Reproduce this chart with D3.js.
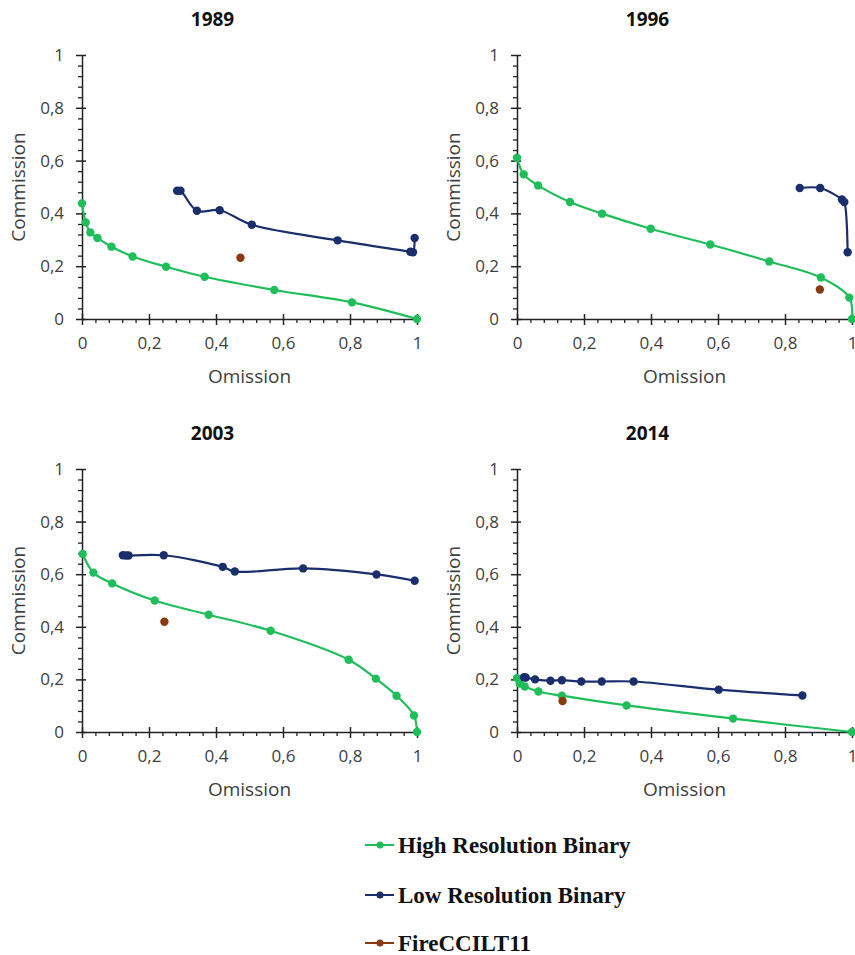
<!DOCTYPE html>
<html><head><meta charset="utf-8">
<script src="https://cdn.jsdelivr.net/npm/d3@7"></script>
<style>body{margin:0;background:#fff}svg{display:block}</style>
</head><body>
<script>
// ---------- DATA ----------
const years = ["1989", "1996", "2003", "2014"];
const seriesNames = ["High Resolution Binary", "Low Resolution Binary", "FireCCILT11"];
const tickValues = [0, 0.2, 0.4, 0.6, 0.8, 1];

// each point: [omission, commission]
const high1989 = [[0,0.438],[0.011,0.366],[0.025,0.328],[0.046,0.307],[0.088,0.274],[0.151,0.237],[0.251,0.198],[0.366,0.160],[0.574,0.110],[0.806,0.063],[1.0,0.0]];
const low1989  = [[0.284,0.486],[0.294,0.486],[0.343,0.410],[0.411,0.412],[0.507,0.357],[0.763,0.298],[0.980,0.255],[0.988,0.253],[0.993,0.307]];
const fire1989 = [[0.473,0.232]];

const high1996 = [[0,0.611],[0.020,0.548],[0.063,0.506],[0.158,0.443],[0.254,0.399],[0.399,0.342],[0.577,0.282],[0.753,0.218],[0.907,0.157],[0.992,0.081],[1.0,0.0]];
const low1996  = [[0.844,0.496],[0.905,0.496],[0.970,0.453],[0.977,0.443],[0.987,0.253]];
const fire1996 = [[0.904,0.112]];

const high2003 = [[0.002,0.677],[0.034,0.606],[0.090,0.565],[0.217,0.500],[0.378,0.446],[0.563,0.385],[0.796,0.275],[0.877,0.203],[0.939,0.138],[0.991,0.063],[1.0,0.0]];
const low2003  = [[0.122,0.672],[0.131,0.671],[0.139,0.671],[0.244,0.672],[0.420,0.628],[0.456,0.610],[0.660,0.622],[0.879,0.599],[0.993,0.575]];
const fire2003 = [[0.246,0.419]];

const high2014 = [[0,0.205],[0.008,0.184],[0.023,0.173],[0.064,0.154],[0.134,0.138],[0.327,0.101],[0.645,0.051],[1.0,0.0]];
const low2014  = [[0.021,0.208],[0.026,0.207],[0.054,0.200],[0.100,0.195],[0.134,0.197],[0.192,0.192],[0.253,0.192],[0.348,0.192],[0.602,0.161],[0.852,0.139]];
const fire2014 = [[0.136,0.118]];

const panelData = {
  "1989": [high1989, low1989, fire1989],
  "1996": [high1996, low1996, fire1996],
  "2003": [high2003, low2003, fire2003],
  "2014": [high2014, low2014, fire2014]
};

// ---------- STYLE / LAYOUT ----------
const W = 855, H = 955;
const colors = ["#1FBE5B", "#1B2E6C", "#8B3A10"];
const layout = {
  "1989": {x0: 82, x1: 417, y0: 55, y1: 319},
  "1996": {x0: 517, x1: 852, y0: 55, y1: 319},
  "2003": {x0: 82, x1: 417, y0: 469, y1: 732},
  "2014": {x0: 517, x1: 852, y0: 469, y1: 732}
};
const font = "'Open Sans', 'Liberation Sans', sans-serif";
const fmt = d => String(d).replace(".", ",");

const svg = d3.select("body").append("svg").attr("width", W).attr("height", H);

years.forEach(yr => {
  const L = layout[yr];
  const x = d3.scaleLinear().domain([0, 1]).range([L.x0, L.x1]);
  const y = d3.scaleLinear().domain([0, 1]).range([L.y1, L.y0]);
  const g = svg.append("g");

  // minor ticks
  const minor = d3.range(0, 1.0001, 0.04).filter(v => Math.abs(v*5 - Math.round(v*5)) > 1e-6);
  const gx = g.append("g").attr("transform", `translate(0,${L.y1})`);
  gx.call(d3.axisBottom(x).tickValues(minor).tickSize(4).tickFormat(""));
  const gy = g.append("g").attr("transform", `translate(${L.x0},0)`);
  gy.call(d3.axisLeft(y).tickValues(minor).tickSize(4).tickFormat(""));
  [gx, gy].forEach(a => { a.select(".domain").remove(); a.selectAll("line").attr("stroke", "#222").attr("stroke-width", 1.3); });

  // major axes
  const ax = g.append("g").attr("transform", `translate(0,${L.y1})`)
    .call(d3.axisBottom(x).tickValues(tickValues).tickFormat(fmt).tickSize(6).tickPadding(12).tickSizeOuter(0));
  ax.selectAll(".tick line").attr("y1", -5);
  const ay = g.append("g").attr("transform", `translate(${L.x0},0)`)
    .call(d3.axisLeft(y).tickValues(tickValues).tickFormat(fmt).tickSize(6).tickPadding(12).tickSizeOuter(0));
  ay.selectAll(".tick line").attr("x1", 4);
  [ax, ay].forEach(a => {
    a.select(".domain").attr("stroke", "#222").attr("stroke-width", 1.5);
    a.selectAll(".tick line").attr("stroke", "#222").attr("stroke-width", 1.5);
    a.selectAll("text").attr("font-family", font).attr("font-size", 17).attr("fill", "#404040");
  });

  // title
  g.append("text").attr("x", (L.x0 + L.x1) / 2 - 37).attr("y", L.y0 - 29)
    .attr("text-anchor", "middle").attr("font-family", font).attr("font-weight", "bold")
    .attr("font-size", 19).attr("fill", "#111").text(yr);
  // axis titles
  g.append("text").attr("x", (L.x0 + L.x1) / 2).attr("y", L.y1 + 64)
    .attr("text-anchor", "middle").attr("font-family", font).attr("font-size", 19)
    .attr("fill", "#404040").text("Omission");
  g.append("text").attr("transform", `translate(${L.x0 - 57},${(L.y0 + L.y1) / 2}) rotate(-90)`)
    .attr("text-anchor", "middle").attr("font-family", font).attr("font-size", 19)
    .attr("fill", "#404040").text("Commission");

  // series
  const line = d3.line().x(d => x(d[0])).y(d => y(d[1])).curve(d3.curveCatmullRom.alpha(0.5));
  panelData[yr].forEach((pts, i) => {
    if (pts.length > 1) {
      g.append("path").datum(pts).attr("d", line).attr("fill", "none")
        .attr("stroke", colors[i]).attr("stroke-width", 2.2);
    }
    g.selectAll(null).data(pts).join("circle")
      .attr("cx", d => x(d[0])).attr("cy", d => y(d[1])).attr("r", 4.2).attr("fill", colors[i]);
  });
});

// legend
const legY = [845, 895, 943];
const lg = svg.append("g");
seriesNames.forEach((name, i) => {
  lg.append("line").attr("x1", 365).attr("x2", 394).attr("y1", legY[i]).attr("y2", legY[i])
    .attr("stroke", colors[i]).attr("stroke-width", 2);
  lg.append("circle").attr("cx", 380).attr("cy", legY[i]).attr("r", 3.5).attr("fill", colors[i]);
  lg.append("text").attr("x", 398).attr("y", legY[i]).attr("dy", "0.35em")
    .attr("font-family", "'Liberation Serif', 'Times New Roman', serif").attr("font-weight", "bold")
    .attr("font-size", 23).attr("fill", "#111").text(name);
});
</script>
</body></html>
